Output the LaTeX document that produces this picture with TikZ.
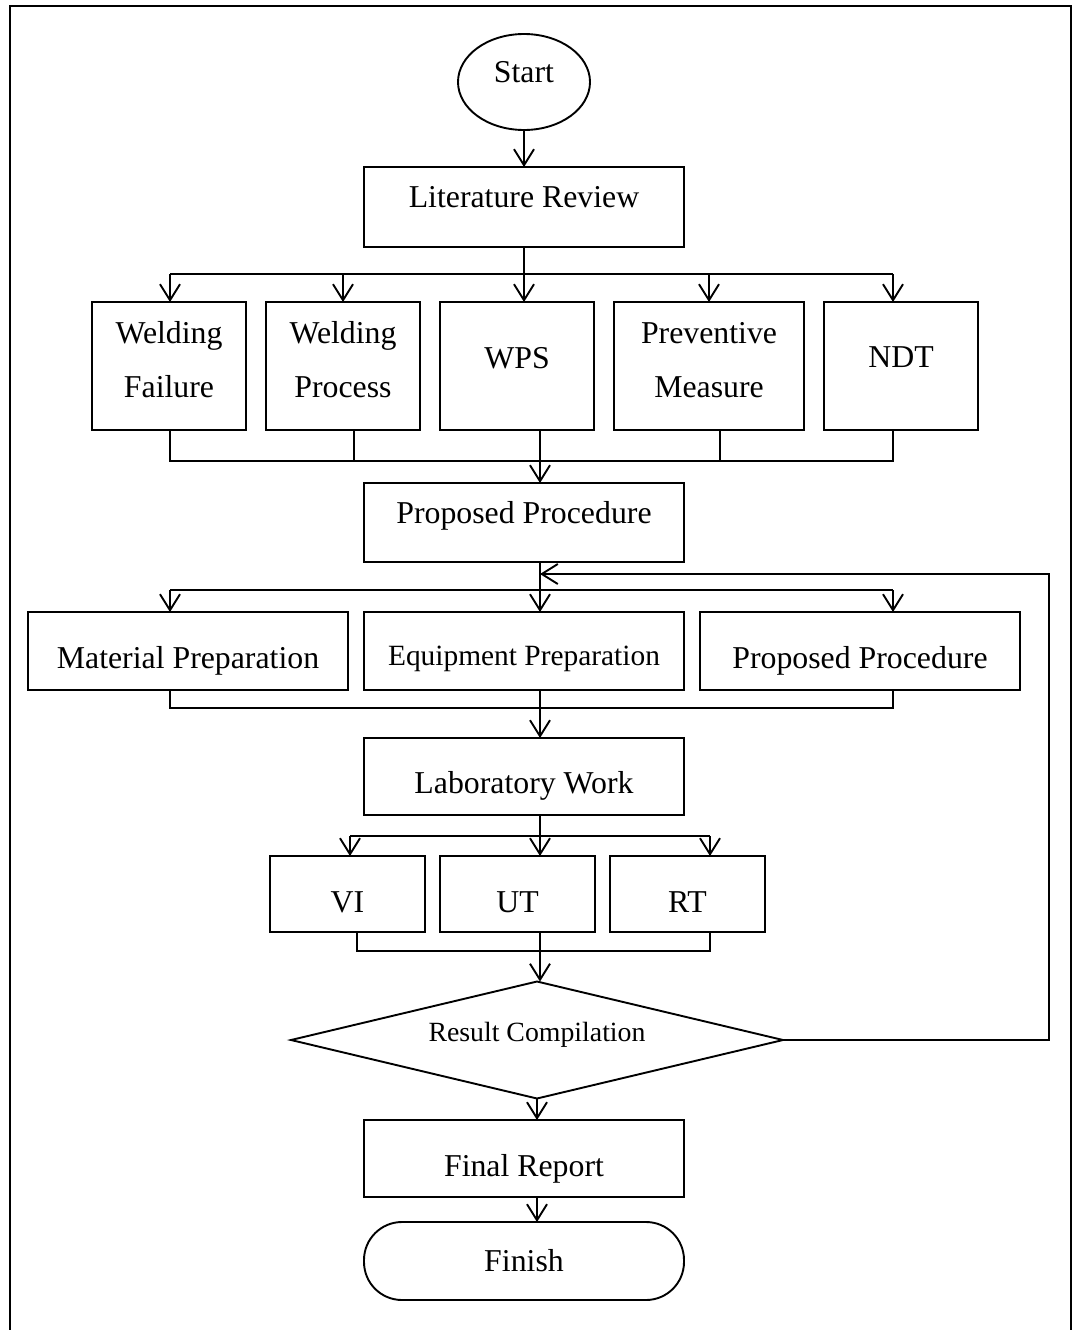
\documentclass[tikz,border=0pt]{standalone}
\usepackage{fontspec}
\setmainfont{Liberation Serif}
\usetikzlibrary{arrows.meta,shapes.geometric}
\newcommand\rtxt[2]{\raisebox{#1pt}[0pt][0pt]{\makebox[0pt]{#2}}}
\begin{document}
\begin{tikzpicture}[x=1pt,y=-1pt,
  line width=1.9pt,
  every node/.style={inner sep=0pt, outer sep=0pt},
  big/.style={font=\fontsize{31.8}{38}\selectfont},
  box/.style={draw, rectangle, big},
  arr/.style={-{Straight Barb[length=16pt,width=20pt]}},
  ]
\useasboundingbox (0,0) rectangle (1073,1330);
\draw[line width=2.4pt] (10,1332) -- (10,6) -- (1071,6) -- (1071,1332);

% nodes
\node[draw, ellipse, big, minimum width=132, minimum height=96] (start) at (524,82) {\rtxt{-0.5}{Start}};
\node[box, minimum width=320, minimum height=80] (lit) at (524,207) {\rtxt{-0.5}{Literature Review}};

\node[box, minimum width=154, minimum height=128] (wf) at (169,366) {\rtxt{22.5}{Welding}\rtxt{-31.5}{Failure}};
\node[box, minimum width=154, minimum height=128] (wp) at (343,366) {\rtxt{22.5}{Welding}\rtxt{-31.5}{Process}};
\node[box, minimum width=154, minimum height=128] (wps) at (517,366) {\rtxt{-2.5}{WPS}};
\node[box, minimum width=190, minimum height=128] (pm) at (709,366) {\rtxt{22.5}{Preventive}\rtxt{-31.5}{Measure}};
\node[box, minimum width=154, minimum height=128] (ndt) at (901,366) {\rtxt{-1.5}{NDT}};

\node[box, minimum width=320, minimum height=79] (pp) at (524,522.5) {\rtxt{-1}{Proposed Procedure}};

\node[box, minimum width=320, minimum height=78] (mat) at (188,651) {\rtxt{-17.5}{Material Preparation}};
\node[box, minimum width=320, minimum height=78, font=\fontsize{29.4}{35}\selectfont] (eqp) at (524,651) {\rtxt{-14.7}{Equipment Preparation}};
\node[box, minimum width=320, minimum height=78] (pp2) at (860,651) {\rtxt{-17.5}{Proposed Procedure}};

\node[box, minimum width=320, minimum height=77] (lab) at (524,776.5) {\rtxt{-17}{Laboratory Work}};

\node[box, minimum width=155, minimum height=76] (vi) at (347.5,894) {\rtxt{-18.5}{VI}};
\node[box, minimum width=155, minimum height=76] (ut) at (517.5,894) {\rtxt{-18.5}{UT}};
\node[box, minimum width=155, minimum height=76] (rt) at (687.5,894) {\rtxt{-18.5}{RT}};

\node[draw, diamond, font=\fontsize{27.8}{33}\selectfont, minimum width=492, minimum height=117] (rc) at (537,1040) {\rtxt{-1.2}{Result Compilation}};

\node[box, minimum width=320, minimum height=77] (fin) at (524,1158.5) {\rtxt{-18}{Final Report}};
\node[box, rounded corners=38pt, minimum width=320, minimum height=78] (finish) at (524,1261) {\rtxt{-10.5}{Finish}};

% connectors
\coordinate (m1) at (540,461);
\draw[arr] (start.south) -- (start.south |- lit.north);
\draw[arr] (lit.south) -- (lit.south |- wps.north);

\coordinate (b1l) at (170,274);
\coordinate (b1r) at (893,274);
\draw (b1l) -- (b1r);
\draw[arr] (b1l) -- (b1l |- wf.north);
\draw[arr] (b1l -| wp.north) -- (wp.north);
\draw[arr] (b1l -| pm.north) -- (pm.north);
\draw[arr] (b1r) -- (b1r |- ndt.north);

\coordinate (c1l) at (170,461);
\coordinate (c1r) at (893,461);
\coordinate (c1a) at (354,461);
\coordinate (c1b) at (720,461);
\draw (c1l |- wf.south) -- (c1l) -- (c1r) -- (c1r |- ndt.south);
\draw (c1a) -- (c1a |- wp.south);
\draw (c1b) -- (c1b |- pm.south);
\draw[arr] (m1 |- wps.south) -- (m1 |- pp.north);

\draw[arr] (m1 |- pp.south) -- (m1 |- eqp.north);
\coordinate (b2l) at (170,590);
\coordinate (b2r) at (893,590);
\draw (b2l) -- (b2r);
\draw[arr] (b2l) -- (b2l |- mat.north);
\draw[arr] (b2r) -- (b2r |- pp2.north);

\coordinate (fbr) at (1049,574);
\coordinate (fbm) at (540,574);
\draw[arr] (rc.east) -- (rc.east -| fbr) -- (fbr) -- (fbm);

\coordinate (c2l) at (170,708);
\coordinate (c2r) at (893,708);
\draw (c2l |- mat.south) -- (c2l) -- (c2r) -- (c2r |- pp2.south);
\draw[arr] (m1 |- eqp.south) -- (m1 |- lab.north);

\coordinate (b3l) at (350,836);
\coordinate (b3r) at (710,836);
\draw (b3l) -- (b3r);
\draw[arr] (m1 |- lab.south) -- (m1 |- ut.north);
\draw[arr] (b3l) -- (b3l |- vi.north);
\draw[arr] (b3r) -- (b3r |- rt.north);

\coordinate (c3l) at (357,951);
\coordinate (c3r) at (710,951);
\draw (c3l |- vi.south) -- (c3l) -- (c3r) -- (c3r |- rt.south);
\draw[arr] (m1 |- ut.south) -- (m1 |- rc.north);

\draw[arr] (rc.south) -- (rc.south |- fin.north);
\draw[arr] (rc.south |- fin.south) -- (rc.south |- finish.north);
\end{tikzpicture}
\end{document}
